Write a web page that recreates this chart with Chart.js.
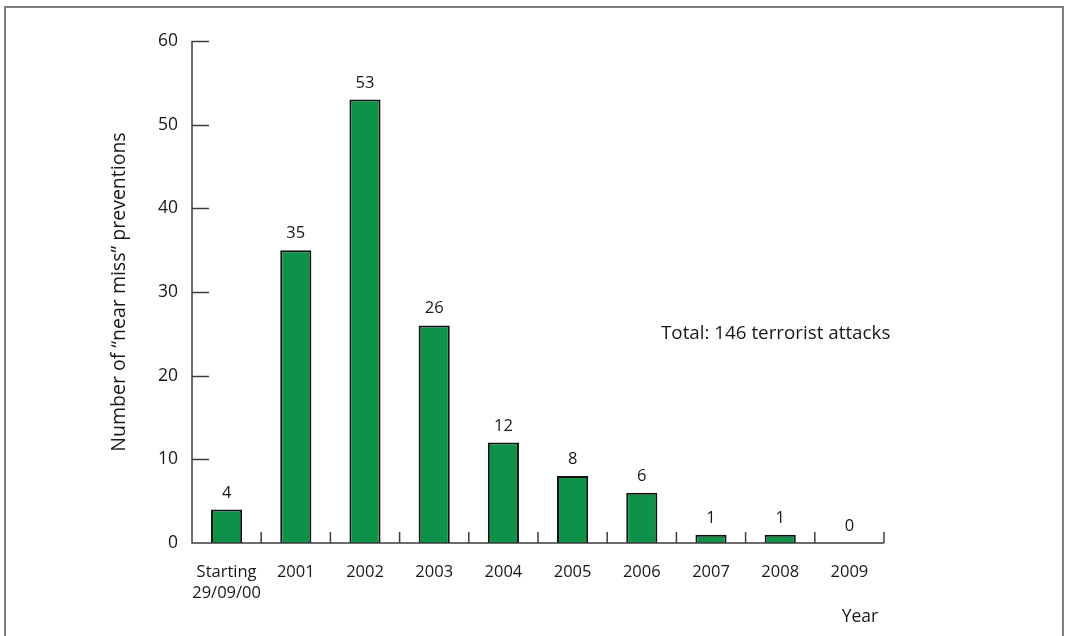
<!DOCTYPE html>
<html>
<head>
<meta charset="utf-8">
<script src="https://cdn.jsdelivr.net/npm/chart.js@4.4.1/dist/chart.umd.min.js"></script>
<style>
html,body{margin:0;padding:0;background:#fff;}
#c{display:block;}
</style>
</head>
<body>
<canvas id="c" width="1066" height="636"></canvas>
<script>
const categories = [["Starting","29/09/00"],"2001","2002","2003","2004","2005","2006","2007","2008","2009"];
const preventions = [4,35,53,26,12,8,6,1,1,0];
const yTicks = [0,10,20,30,40,50,60];
const yTitle = "Number of \u201Cnear miss\u201D preventions";
const xTitle = "Year";
const annotation = "Total: 146 terrorist attacks";

const FONT = "'Open Sans', 'Noto Sans', sans-serif";
const TXT = "#1a1718";
const AXIS = "#3d3d3d";

const decor = {
  id: 'decor',
  beforeDraw(chart){
    const ctx = chart.ctx;
    ctx.save();
    ctx.fillStyle = '#fff';
    ctx.fillRect(0,0,chart.width,chart.height);
    ctx.strokeStyle = '#808080';
    ctx.lineWidth = 2;
    ctx.strokeRect(5, 7, 1058, 640);
    ctx.restore();
  },
  afterDatasetsDraw(chart){
    const ctx = chart.ctx;
    const x = chart.scales.x, y = chart.scales.y;
    const area = chart.chartArea;
    ctx.save();
    ctx.strokeStyle = AXIS;
    ctx.lineWidth = 1.5;
    yTicks.forEach(v => {
      if (v === 0) return;
      const py = Math.round(y.getPixelForValue(v)) + 0.5;
      ctx.beginPath();
      ctx.moveTo(area.left, py);
      ctx.lineTo(area.left + 17, py);
      ctx.stroke();
    });
    const n = categories.length;
    for (let i = 0; i < n; i++) {
      const px = i < n - 1 ? (x.getPixelForValue(i) + x.getPixelForValue(i + 1)) / 2 : area.right;
      ctx.beginPath();
      ctx.moveTo(px, area.bottom);
      ctx.lineTo(px, area.bottom - 11);
      ctx.stroke();
    }
    ctx.beginPath();
    ctx.moveTo(area.left, area.top);
    ctx.lineTo(area.left, area.bottom);
    ctx.lineTo(area.right, area.bottom);
    ctx.stroke();
    ctx.fillStyle = TXT;
    ctx.font = "16.5px " + FONT;
    ctx.textAlign = 'center';
    ctx.textBaseline = 'alphabetic';
    const meta = chart.getDatasetMeta(0);
    meta.data.forEach((bar, i) => {
      ctx.fillText(String(preventions[i]), bar.x, y.getPixelForValue(preventions[i]) - 12);
    });
    ctx.textAlign = 'left';
    ctx.textBaseline = 'middle';
    ctx.font = "18.8px " + FONT;
    ctx.fillText(annotation, 661, 334);
    ctx.font = "17.5px " + FONT;
    ctx.textAlign = 'center';
    ctx.fillText(xTitle, 860, 617);
    ctx.font = "19.5px " + FONT;
    ctx.translate(119, (area.top + area.bottom) / 2);
    ctx.rotate(-Math.PI / 2);
    ctx.fillText(yTitle, 0, 0);
    ctx.restore();
  }
};

new Chart(document.getElementById('c'), {
  type: 'bar',
  data: {
    labels: categories,
    datasets: [{
      data: preventions,
      backgroundColor: '#0e9148',
      borderColor: '#111',
      borderWidth: 2,
      borderSkipped: 'bottom',
      barPercentage: 0.45,
      categoryPercentage: 1.0
    }]
  },
  options: {
    responsive: false,
    animation: false,
    devicePixelRatio: 1,
    layout: { padding: { left: 0, top: 41, right: 182, bottom: 0 } },
    plugins: { legend: { display: false }, tooltip: { enabled: false }, title: { display: false } },
    scales: {
      x: {
        grid: { display: false, drawTicks: false },
        border: { display: false },
        ticks: { color: TXT, font: { family: FONT, size: 16.5, lineHeight: 1.28 }, padding: 19, maxRotation: 0, autoSkip: false },
        afterFit(s) { s.height = 93; }
      },
      y: {
        min: 0, max: 60,
        grid: { display: false, drawTicks: false },
        border: { display: false },
        ticks: { stepSize: 10, color: TXT, font: { family: FONT, size: 17.5 }, padding: 14 },
        afterFit(s) { s.width = 192; }
      }
    }
  },
  plugins: [decor]
});
</script>
</body>
</html>
